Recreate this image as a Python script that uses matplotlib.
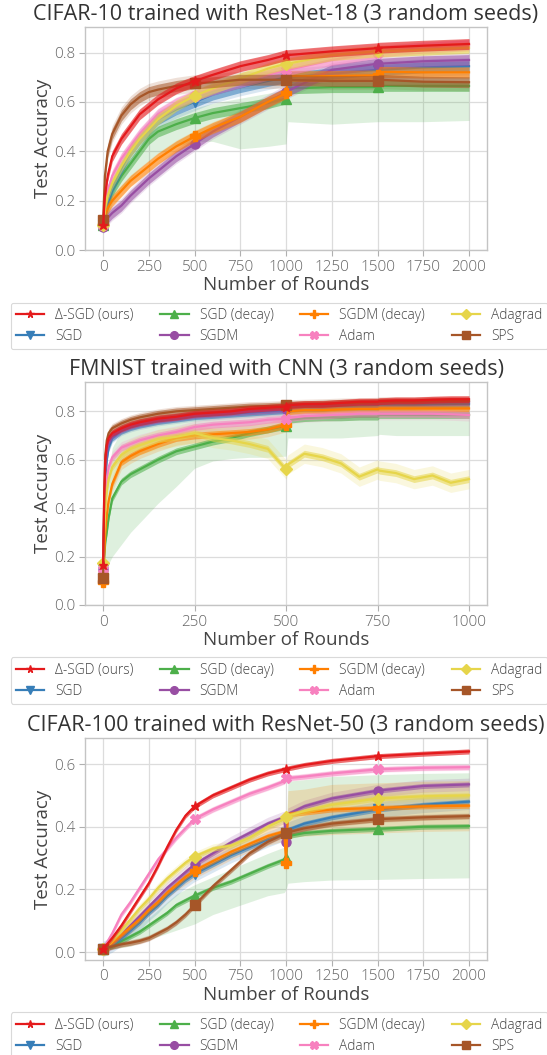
import matplotlib
matplotlib.use('Agg')
import matplotlib.pyplot as plt
import numpy as np

plt.rcParams['font.family'] = ['Open Sans Light', 'Open Sans', 'DejaVu Sans']
plt.rcParams['font.weight'] = 'light'

W, H = 547, 1055

# ---------------- shared legend data ----------------
names = ["Δ-SGD (ours)", "SGD", "SGD (decay)", "SGDM", "SGDM (decay)", "Adam", "Adagrad", "SPS"]
colors = ['#e41a1c', '#377eb8', '#4daf4a', '#984ea3', '#ff7f00', '#f781bf', '#e6d54a', '#a65628']
markers = ['*', 'v', '^', 'o', 'P', 'X', 'D', 's']
draw_order = [2, 1, 3, 4, 5, 6, 7, 0]

# ---------------- CIFAR-10 / ResNet-18 ----------------
c10_rounds = [0, 10, 25, 50, 100, 150, 200, 250, 300, 400, 500, 600, 750, 900, 1000, 1010, 1250, 1500, 1510, 1750, 2000]
c10_dsgd = [0.10, 0.22, 0.30, 0.38, 0.45, 0.50, 0.55, 0.58, 0.61, 0.655, 0.685, 0.71, 0.745, 0.77, 0.79, 0.79, 0.805, 0.818, 0.82, 0.828, 0.835]
c10_sgd = [0.10, 0.14, 0.19, 0.25, 0.33, 0.40, 0.45, 0.49, 0.53, 0.57, 0.60, 0.63, 0.66, 0.685, 0.70, 0.70, 0.715, 0.73, 0.73, 0.74, 0.745]
c10_sgd_decay = [0.10, 0.13, 0.18, 0.24, 0.30, 0.35, 0.40, 0.45, 0.48, 0.51, 0.535, 0.555, 0.575, 0.595, 0.614, 0.655, 0.66, 0.66, 0.665, 0.665, 0.665]
c10_sgdm = [0.095, 0.11, 0.13, 0.15, 0.18, 0.22, 0.255, 0.29, 0.32, 0.38, 0.43, 0.48, 0.54, 0.60, 0.64, 0.645, 0.73, 0.755, 0.755, 0.765, 0.77]
c10_sgdm_decay = [0.10, 0.14, 0.17, 0.20, 0.24, 0.28, 0.31, 0.34, 0.37, 0.42, 0.46, 0.495, 0.54, 0.60, 0.635, 0.705, 0.705, 0.708, 0.722, 0.72, 0.72]
c10_adam = [0.10, 0.18, 0.24, 0.30, 0.37, 0.42, 0.47, 0.51, 0.55, 0.595, 0.625, 0.65, 0.68, 0.71, 0.73, 0.73, 0.77, 0.80, 0.805, 0.82, 0.83]
c10_adagrad = [0.10, 0.17, 0.22, 0.27, 0.34, 0.40, 0.45, 0.49, 0.53, 0.585, 0.625, 0.655, 0.695, 0.735, 0.755, 0.755, 0.79, 0.805, 0.805, 0.812, 0.82]
c10_sps = [0.12, 0.30, 0.40, 0.47, 0.545, 0.59, 0.62, 0.64, 0.65, 0.665, 0.675, 0.68, 0.69, 0.69, 0.69, 0.69, 0.685, 0.685, 0.69, 0.682, 0.68]
c10_sd = [0.02, 0.035, None, 0.03, 0.025, 0.025, 0.025, 0.035]
c10_green_lo = [0.09, 0.11, 0.14, 0.19, 0.25, 0.29, 0.33, 0.36, 0.39, 0.42, 0.44, 0.44, 0.41, 0.42, 0.43, 0.52, 0.51, 0.52, 0.52, 0.52, 0.525]
c10_green_hi = [0.11, 0.16, 0.22, 0.28, 0.34, 0.39, 0.44, 0.49, 0.52, 0.55, 0.575, 0.595, 0.615, 0.635, 0.65, 0.70, 0.70, 0.70, 0.70, 0.70, 0.70]

# ---------------- FMNIST / CNN ----------------
fm_rounds = [0, 3, 6, 10, 15, 25, 50, 75, 100, 150, 200, 250, 300, 350, 400, 450, 500, 505, 550, 600, 650, 700, 750, 755, 800, 850, 900, 950, 1000]
fm_dsgd = [0.165, 0.45, 0.60, 0.66, 0.69, 0.71, 0.73, 0.745, 0.755, 0.77, 0.778, 0.79, 0.795, 0.80, 0.81, 0.815, 0.82, 0.825, 0.83, 0.83, 0.835, 0.84, 0.84, 0.842, 0.845, 0.845, 0.848, 0.85, 0.85]
fm_sgd = [0.15, 0.35, 0.50, 0.60, 0.65, 0.69, 0.72, 0.735, 0.745, 0.76, 0.77, 0.78, 0.785, 0.79, 0.795, 0.80, 0.805, 0.81, 0.815, 0.815, 0.82, 0.82, 0.82, 0.825, 0.825, 0.825, 0.828, 0.83, 0.83]
fm_sgd_decay = [0.15, 0.20, 0.26, 0.30, 0.36, 0.44, 0.51, 0.54, 0.56, 0.60, 0.635, 0.655, 0.675, 0.69, 0.71, 0.725, 0.74, 0.765, 0.772, 0.775, 0.775, 0.778, 0.778, 0.785, 0.785, 0.785, 0.785, 0.785, 0.785]
fm_sgdm = [0.15, 0.40, 0.55, 0.63, 0.67, 0.70, 0.725, 0.74, 0.75, 0.765, 0.775, 0.785, 0.79, 0.795, 0.80, 0.805, 0.81, 0.815, 0.82, 0.82, 0.825, 0.828, 0.83, 0.832, 0.835, 0.835, 0.835, 0.838, 0.838]
fm_sgdm_decay = [0.095, 0.20, 0.30, 0.37, 0.43, 0.50, 0.59, 0.615, 0.635, 0.665, 0.69, 0.70, 0.705, 0.71, 0.715, 0.725, 0.745, 0.80, 0.805, 0.805, 0.808, 0.81, 0.81, 0.812, 0.812, 0.812, 0.812, 0.812, 0.812]
fm_adam = [0.15, 0.35, 0.45, 0.52, 0.57, 0.61, 0.65, 0.665, 0.68, 0.70, 0.715, 0.735, 0.745, 0.75, 0.755, 0.765, 0.77, 0.772, 0.78, 0.783, 0.787, 0.79, 0.79, 0.79, 0.79, 0.79, 0.79, 0.788, 0.785]
fm_adagrad = [0.175, 0.30, 0.40, 0.47, 0.52, 0.57, 0.62, 0.645, 0.66, 0.685, 0.695, 0.71, 0.69, 0.68, 0.665, 0.645, 0.56, 0.58, 0.625, 0.61, 0.585, 0.53, 0.56, 0.555, 0.545, 0.52, 0.535, 0.505, 0.52]
fm_sps = [0.11, 0.45, 0.62, 0.68, 0.71, 0.73, 0.75, 0.765, 0.775, 0.79, 0.80, 0.805, 0.81, 0.815, 0.82, 0.822, 0.825, 0.828, 0.83, 0.832, 0.835, 0.836, 0.838, 0.84, 0.84, 0.84, 0.842, 0.842, 0.843]
fm_sd = [0.015, 0.02, None, 0.02, 0.03, 0.025, 0.04, 0.02]
fm_green_lo = [0.10, 0.11, 0.13, 0.15, 0.17, 0.20, 0.25, 0.30, 0.34, 0.42, 0.49, 0.565, 0.595, 0.605, 0.61, 0.61, 0.615, 0.69, 0.69, 0.69, 0.69, 0.695, 0.70, 0.705, 0.70, 0.70, 0.70, 0.70, 0.70]
fm_green_hi = [0.20, 0.30, 0.40, 0.48, 0.55, 0.65, 0.72, 0.75, 0.77, 0.78, 0.79, 0.80, 0.80, 0.80, 0.81, 0.81, 0.82, 0.84, 0.84, 0.84, 0.84, 0.84, 0.84, 0.845, 0.845, 0.845, 0.845, 0.845, 0.845]

# ---------------- CIFAR-100 / ResNet-50 ----------------
c100_rounds = [0, 50, 100, 150, 200, 250, 300, 350, 400, 450, 500, 600, 700, 800, 900, 990, 1000, 1010, 1100, 1250, 1500, 1750, 2000]
c100_dsgd = [0.01, 0.045, 0.085, 0.13, 0.175, 0.22, 0.275, 0.335, 0.39, 0.435, 0.465, 0.50, 0.525, 0.55, 0.57, 0.583, 0.585, 0.586, 0.597, 0.61, 0.625, 0.633, 0.64]
c100_sgd = [0.01, 0.025, 0.045, 0.07, 0.095, 0.125, 0.15, 0.18, 0.205, 0.23, 0.25, 0.28, 0.31, 0.335, 0.36, 0.38, 0.38, 0.39, 0.41, 0.43, 0.455, 0.47, 0.48]
c100_sgd_decay = [0.01, 0.02, 0.035, 0.05, 0.065, 0.085, 0.105, 0.125, 0.15, 0.165, 0.18, 0.205, 0.225, 0.25, 0.275, 0.295, 0.30, 0.37, 0.38, 0.387, 0.393, 0.40, 0.402]
c100_sgdm = [0.01, 0.03, 0.055, 0.085, 0.115, 0.145, 0.175, 0.205, 0.23, 0.255, 0.28, 0.315, 0.35, 0.38, 0.41, 0.43, 0.35, 0.44, 0.465, 0.49, 0.515, 0.53, 0.535]
c100_sgdm_decay = [0.01, 0.03, 0.055, 0.08, 0.105, 0.135, 0.16, 0.19, 0.215, 0.24, 0.26, 0.29, 0.32, 0.345, 0.37, 0.385, 0.285, 0.44, 0.445, 0.455, 0.46, 0.465, 0.467]
c100_adam = [0.01, 0.06, 0.12, 0.16, 0.205, 0.25, 0.295, 0.33, 0.365, 0.395, 0.425, 0.455, 0.48, 0.505, 0.525, 0.545, 0.555, 0.555, 0.56, 0.57, 0.583, 0.588, 0.59]
c100_adagrad = [0.01, 0.04, 0.07, 0.105, 0.14, 0.17, 0.205, 0.235, 0.26, 0.285, 0.305, 0.33, 0.34, 0.365, 0.40, 0.425, 0.43, 0.435, 0.45, 0.47, 0.49, 0.497, 0.50]
c100_sps = [0.01, 0.018, 0.025, 0.03, 0.036, 0.045, 0.06, 0.075, 0.095, 0.12, 0.15, 0.21, 0.262, 0.315, 0.352, 0.377, 0.38, 0.382, 0.395, 0.41, 0.424, 0.43, 0.434]
c100_sgdm_decay_sd = [0.002, 0.01, 0.015, 0.02, 0.02, 0.02, 0.02, 0.02, 0.02, 0.025, 0.025, 0.025, 0.025, 0.025, 0.03, 0.03, 0.03, 0.075, 0.075, 0.08, 0.08, 0.08, 0.08]
c100_sd = [0.008, 0.025, None, 0.02, c100_sgdm_decay_sd, 0.01, 0.015, 0.01]
c100_green_lo = [0.008, 0.01, 0.015, 0.02, 0.03, 0.04, 0.05, 0.06, 0.07, 0.08, 0.09, 0.12, 0.14, 0.16, 0.18, 0.19, 0.20, 0.22, 0.225, 0.23, 0.232, 0.235, 0.237]
c100_green_hi = [0.012, 0.03, 0.05, 0.07, 0.09, 0.11, 0.135, 0.16, 0.185, 0.20, 0.215, 0.24, 0.265, 0.29, 0.315, 0.335, 0.34, 0.545, 0.55, 0.56, 0.566, 0.57, 0.572]

panels = [
    dict(title="CIFAR-10 trained with ResNet-18 (3 random seeds)", rounds=c10_rounds,
         series=[c10_dsgd, c10_sgd, c10_sgd_decay, c10_sgdm, c10_sgdm_decay, c10_adam, c10_adagrad, c10_sps],
         sd=c10_sd, glo=c10_green_lo, ghi=c10_green_hi, ribbon=0.022,
         top=26.7, bottom=250.0, xlim=(-100, 2100), ylim=(0, 0.905),
         xticks=[0, 250, 500, 750, 1000, 1250, 1500, 1750, 2000], yticks=[0, 0.2, 0.4, 0.6, 0.8],
         mstep=500, mmax=1500, leg_top=302.7),
    dict(title="FMNIST trained with CNN (3 random seeds)", rounds=fm_rounds,
         series=[fm_dsgd, fm_sgd, fm_sgd_decay, fm_sgdm, fm_sgdm_decay, fm_adam, fm_adagrad, fm_sps],
         sd=fm_sd, glo=fm_green_lo, ghi=fm_green_hi, ribbon=0.014,
         top=382.3, bottom=605.0, xlim=(-50, 1050), ylim=(0, 0.92),
         xticks=[0, 250, 500, 750, 1000], yticks=[0, 0.2, 0.4, 0.6, 0.8],
         mstep=500, mmax=500, leg_top=657.3),
    dict(title="CIFAR-100 trained with ResNet-50 (3 random seeds)", rounds=c100_rounds,
         series=[c100_dsgd, c100_sgd, c100_sgd_decay, c100_sgdm, c100_sgdm_decay, c100_adam, c100_adagrad, c100_sps],
         sd=c100_sd, glo=c100_green_lo, ghi=c100_green_hi, ribbon=0.008,
         top=738.3, bottom=959.7, xlim=(-100, 2100), ylim=(-0.024, 0.682),
         xticks=[0, 250, 500, 750, 1000, 1250, 1500, 1750, 2000], yticks=[0, 0.2, 0.4, 0.6],
         mstep=500, mmax=1500, leg_top=1012.3),
]

fig = plt.figure(figsize=(W / 100, H / 100), dpi=100)
left_px, right_px = 84.8, 487.3

for p in panels:
    ax = fig.add_axes([left_px / W, 1 - p['bottom'] / H, (right_px - left_px) / W, (p['bottom'] - p['top']) / H])
    r = np.array(p['rounds'], dtype=float)
    midx = [i for i, v in enumerate(p['rounds']) if v % p['mstep'] == 0 and v <= p['mmax']]
    handles = [None] * 8
    for z, k in enumerate(draw_order):
        m = np.array(p['series'][k])
        if k == 2:
            lo, hi = np.array(p['glo']), np.array(p['ghi'])
        else:
            s = np.array(p['sd'][k]) if not np.isscalar(p['sd'][k]) else p['sd'][k]
            lo, hi = m - s, m + s
        ax.fill_between(r, lo, hi, color=colors[k], alpha=0.18, lw=0, zorder=1 + z * 0.01)
        ax.fill_between(r, m - p['ribbon'], m + p['ribbon'], color=colors[k], alpha=0.55, lw=0,
                        zorder=3 + z - 0.5)
        ln, = ax.plot(r, m, color=colors[k], lw=1.6, marker=markers[k], ms=6.5, mec=colors[k],
                      markevery=midx, zorder=3 + z, label=names[k])
        handles[k] = ln
    ax.set_xlim(*p['xlim'])
    ax.set_ylim(*p['ylim'])
    ax.set_xticks(p['xticks'])
    ax.set_yticks(p['yticks'])
    ax.set_yticklabels([f"{v:.1f}" for v in p['yticks']])
    ax.grid(True, color='#dcdcdc', lw=0.9, zorder=0)
    ax.set_axisbelow(True)
    for sp in ax.spines.values():
        sp.set_color('#c4c4c4')
        sp.set_linewidth(1.0)
    ax.tick_params(length=4, width=0.8, color='#b0b0b0', labelcolor='#666666', labelsize=11, pad=3)
    ax.set_title(p['title'], fontsize=15.5, color='#333333', pad=5)
    ax.set_xlabel("Number of Rounds", fontsize=13.5, color='#444444', labelpad=1)
    ax.set_ylabel("Test Accuracy", fontsize=13.5, color='#444444', labelpad=1)
    leg = fig.legend(handles, names, loc='upper left', bbox_to_anchor=(10.5 / W, 1 - p['leg_top'] / H),
                     ncol=4, fontsize=9.9, frameon=True, fancybox=True, borderaxespad=0,
                     handlelength=2.05, columnspacing=1.95, labelspacing=0.42, markerscale=0.85)
    leg.get_frame().set_edgecolor('#d0d0d0')
    leg.get_frame().set_linewidth(0.8)
    for t in leg.get_texts():
        t.set_color('#444444')

fig.savefig('out.png', dpi=100)
